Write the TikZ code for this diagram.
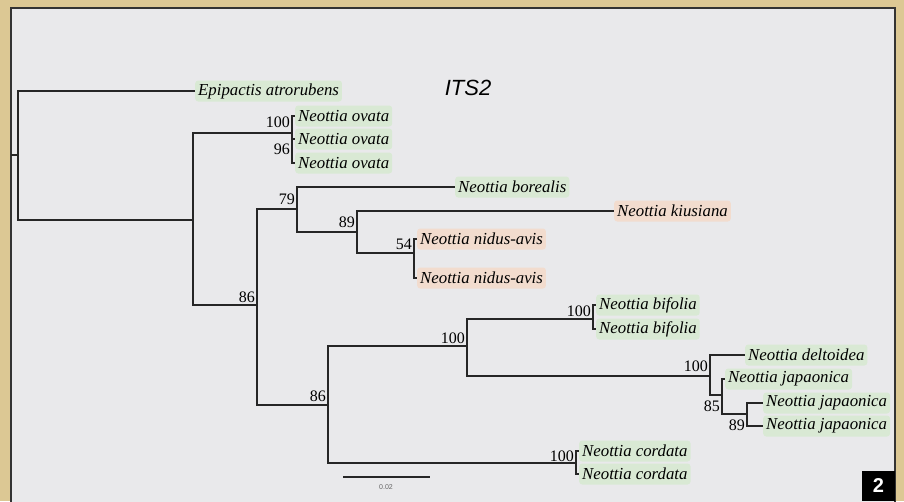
\documentclass[tikz,border=0pt]{standalone}
\usepackage{fontspec}
\setmainfont{Liberation Serif}
\newfontfamily\titlefont{Liberation Sans}
\usepackage{xcolor}
\usetikzlibrary{positioning}

\definecolor{frametan}{RGB}{220,200,148}
\definecolor{panelgray}{RGB}{233,233,235}
\definecolor{leafgreen}{RGB}{217,233,212}
\definecolor{leafpink}{RGB}{242,220,206}

\begin{document}
\begin{tikzpicture}[
    x=1pt, y=-1pt,
    br/.style={line width=1.7pt, black!85},
    taxon/.style={anchor=west, rounded corners=3pt, fill=leafgreen, inner xsep=3pt, inner ysep=0pt, minimum height=21pt, font=\fontsize{16.8}{18}\selectfont\itshape},
    taxonpk/.style={taxon, fill=leafpink},
    bs/.style={anchor=east, inner sep=0pt, font=\fontsize{16}{17}\selectfont}
]
\useasboundingbox (0,0) rectangle (904,501);
\clip (0,0) rectangle (904,501);

% frame and panel
\fill[frametan] (0,0) rectangle (904,501);
\filldraw[fill=panelgray, draw=black!80, line width=1.3pt] (11,8) rectangle (895,520);

\node[font=\titlefont\itshape\fontsize{22}{24}\selectfont] (title) at (468,88) {ITS2};

% internal nodes
\coordinate (stub) at (11,155);
\coordinate (n0) at (18,155);
\coordinate (n1) at (193,220);
\coordinate (nov) at (292,133);
\coordinate (n86a) at (257,305);
\coordinate (n79) at (297,209);
\coordinate (n89a) at (357,232);
\coordinate (n54) at (414,253);
\coordinate (n86b) at (328,405);
\coordinate (n100a) at (467,346);
\coordinate (nbif) at (593,319);
\coordinate (n100b) at (710,376);
\coordinate (n85) at (722,395);
\coordinate (n89b) at (747,414);
\coordinate (ncor) at (576,463);

% taxa
\node[taxon] (epi) at (195,91) {Epipactis atrorubens};
\node[taxon] (ov1) at (295,116) {Neottia ovata};
\node[taxon] (ov2) at (295,139) {Neottia ovata};
\node[taxon] (ov3) at (295,163) {Neottia ovata};
\node[taxon] (bor) at (455,187) {Neottia borealis};
\node[taxonpk] (kiu) at (614,211) {Neottia kiusiana};
\node[taxonpk] (nid1) at (417,239) {Neottia nidus-avis};
\node[taxonpk] (nid2) at (417,278) {Neottia nidus-avis};
\node[taxon] (bif1) at (596,305) {Neottia bifolia};
\node[taxon] (bif2) at (596,329) {Neottia bifolia};
\node[taxon] (del) at (745,355) {Neottia deltoidea};
\node[taxon] (jap1) at (725,379) {Neottia japaonica};
\node[taxon] (jap2) at (763,403) {Neottia japaonica};
\node[taxon] (jap3) at (763,426) {Neottia japaonica};
\node[taxon] (cor1) at (579,451) {Neottia cordata};
\node[taxon] (cor2) at (579,474) {Neottia cordata};

% branches
\draw[br] (stub) -- (n0);
\draw[br] (n0) |- (epi.west);
\draw[br] (n0) |- (n1);
\draw[br] (n1) |- (nov);
\draw[br] (n1) |- (n86a);
\draw[br] (nov) |- (ov1.west);
\draw[br] (nov) |- (ov2.west);
\draw[br] (nov) |- (ov3.west);
\draw[br] (n86a) |- (n79);
\draw[br] (n86a) |- (n86b);
\draw[br] (n79) |- (bor.west);
\draw[br] (n79) |- (n89a);
\draw[br] (n89a) |- (kiu.west);
\draw[br] (n89a) |- (n54);
\draw[br] (n54) |- (nid1.west);
\draw[br] (n54) |- (nid2.west);
\draw[br] (n86b) |- (n100a);
\draw[br] (n86b) |- (ncor);
\draw[br] (n100a) |- (nbif);
\draw[br] (n100a) |- (n100b);
\draw[br] (nbif) |- (bif1.west);
\draw[br] (nbif) |- (bif2.west);
\draw[br] (n100b) |- (del.west);
\draw[br] (n100b) |- (n85);
\draw[br] (n85) |- (jap1.west);
\draw[br] (n85) |- (n89b);
\draw[br] (n89b) |- (jap2.west);
\draw[br] (n89b) |- (jap3.west);
\draw[br] (ncor) |- (cor1.west);
\draw[br] (ncor) |- (cor2.west);

% support values
\node[bs] (s1) at (290,122) {100};
\node[bs] (s2) at (290,149) {96};
\node[bs] (s3) at (295,199) {79};
\node[bs] (s4) at (355,222) {89};
\node[bs] (s5) at (412,244) {54};
\node[bs] (s6) at (255,297) {86};
\node[bs] (s7) at (326,396) {86};
\node[bs] (s8) at (465,338) {100};
\node[bs] (s9) at (591,311) {100};
\node[bs] (s10) at (708,366) {100};
\node[bs] (s11) at (720,406) {85};
\node[bs] (s12) at (745,425) {89};
\node[bs] (s13) at (574,456) {100};

% scale bar
\coordinate (sb1) at (343,477);
\coordinate (sb2) at (430,477);
\draw[line width=1.4pt, black!85] (sb1) -- (sb2);
\node[font=\titlefont\fontsize{7}{8}\selectfont, text=black!60, inner sep=0pt] (sblabel) at (386,487) {0.02};

% panel number
\node[fill=black, text=white, font=\titlefont\bfseries\fontsize{20}{22}\selectfont, minimum width=33pt, minimum height=30pt, anchor=south east] (fignum) at (895,501) {2};
\end{tikzpicture}
\end{document}
